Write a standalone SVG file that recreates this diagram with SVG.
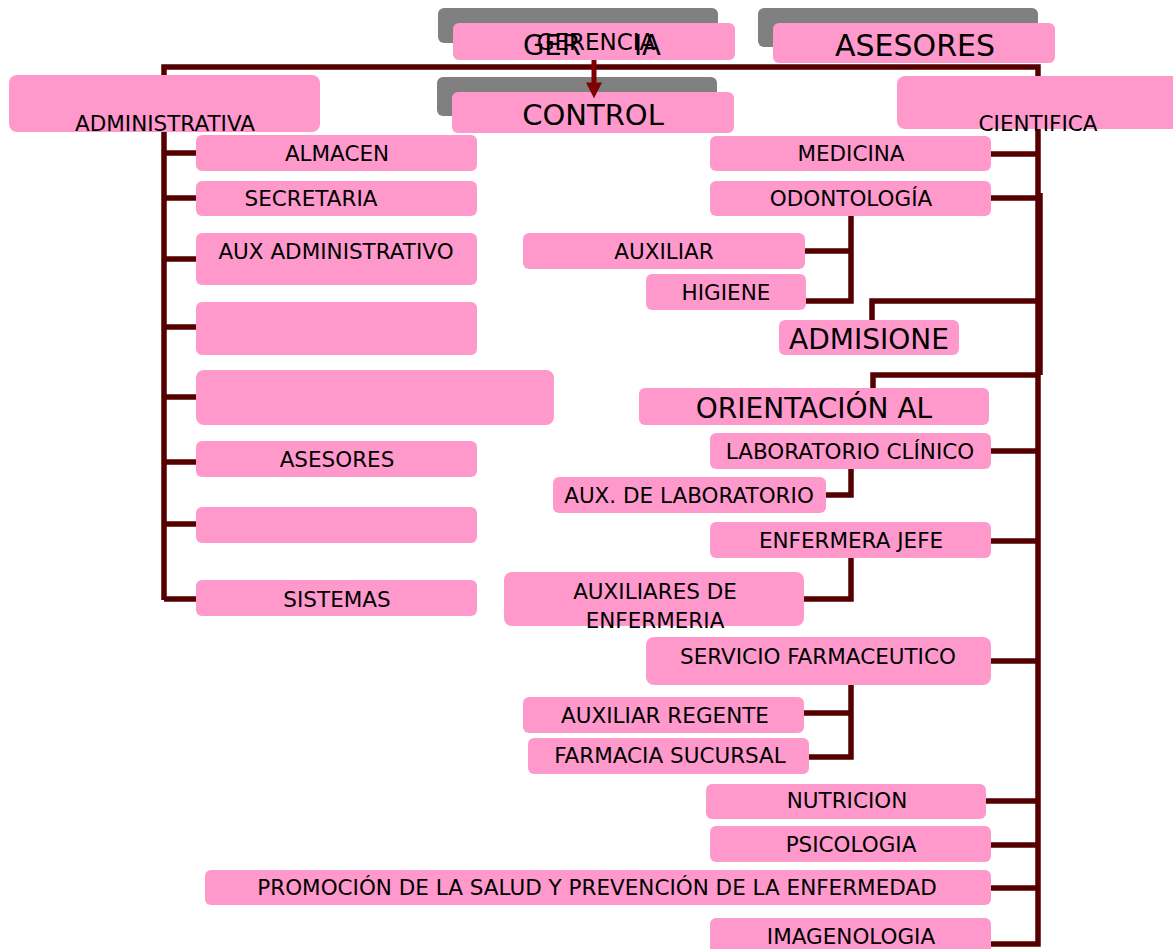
<svg xmlns="http://www.w3.org/2000/svg" width="1173" height="949" viewBox="0 0 1173 949">
<defs>
<style>
.sh{fill:#808080}
.n{fill:#FF99CC}
.t{font-family:"DejaVu Sans",Verdana,sans-serif;font-size:21.5px;fill:#000;text-anchor:middle}
.b{font-size:29px}
.c{fill:none;stroke:#550000;stroke-width:5.5;stroke-linejoin:miter}
</style>
<marker id="ah" viewBox="0 0 10 10" refX="1" refY="5" markerWidth="16" markerHeight="16" orient="auto" markerUnits="userSpaceOnUse">
<path d="M0,0 L10,5 L0,10 z" fill="#7F0000"/>
</marker>
</defs>
<rect width="1173" height="949" fill="#fff"/>
<g id="connectors">
<path class="c" d="M164,600 V67 H1038 V944 H991"/>
<path class="c" d="M1040,193 V375"/>
<path class="c" d="M164,153 H196 M164,198 H196 M164,259 H196 M164,327 H196 M164,397 H196 M164,462 H196 M164,524 H196 M164,599 H196"/>
<path class="c" d="M991,154 H1038 M991,198 H1040 M991,451 H1038 M991,541 H1038 M991,661 H1038 M986,801 H1038 M991,845 H1038 M991,888 H1038"/>
<path class="c" d="M872,321 V301 H1038 M873,390 V375 H1040"/>
<path class="c" d="M851,216 V301 H806 M805,251 H851"/>
<path class="c" d="M851,469 V495 H826"/>
<path class="c" d="M851,558 V599 H804"/>
<path class="c" d="M851,685 V757 H809 M804,713 H851"/>
</g>
<g id="gerencia">
<rect class="sh" x="438" y="8" width="280" height="35" rx="6"/>
<rect class="n" x="453" y="23" width="282" height="37" rx="6"/>
<text class="t" x="596" y="50" style="font-size:23px">GERENCIA</text>
<text class="t" x="523" y="55" style="text-anchor:start;font-size:27.5px">GER</text>
<text class="t" x="634" y="55" style="text-anchor:start;font-size:27.5px">IA</text>
</g>
<g id="asesores-top">
<rect class="sh" x="758" y="8" width="280" height="39" rx="6"/>
<rect class="n" x="773" y="23" width="282" height="40" rx="6"/>
<text class="t" x="915" y="56" style="font-size:30px">ASESORES</text>
</g>
<g id="control">
<rect class="sh" x="437" y="77" width="280" height="39" rx="6"/>
<rect class="n" x="452" y="92" width="282" height="41" rx="6"/>
<text class="t b" x="593" y="125">CONTROL</text>
</g>
<g id="administrativa">
<rect class="n" x="9" y="75" width="311" height="57" rx="8"/>
<text class="t" x="165" y="131">ADMINISTRATIVA</text>
</g>
<g id="cientifica">
<rect class="n" x="897" y="76" width="290" height="53" rx="8"/>
<text class="t" x="1038" y="131">CIENTIFICA</text>
</g>
<g id="almacen"><rect class="n" x="196" y="135" width="281" height="36" rx="6"/><text class="t" x="337" y="161">ALMACEN</text></g>
<g id="secretaria"><rect class="n" x="196" y="181" width="281" height="35" rx="6"/><text class="t" x="311" y="206">SECRETARIA</text></g>
<g id="aux-admin"><rect class="n" x="196" y="233" width="281" height="52" rx="6"/><text class="t" x="336" y="259">AUX ADMINISTRATIVO</text></g>
<g id="blank1"><rect class="n" x="196" y="302" width="281" height="53" rx="6"/></g>
<g id="blank2"><rect class="n" x="196" y="370" width="358" height="55" rx="8"/></g>
<g id="asesores"><rect class="n" x="196" y="441" width="281" height="36" rx="6"/><text class="t" x="337" y="467">ASESORES</text></g>
<g id="blank3"><rect class="n" x="196" y="507" width="281" height="36" rx="6"/></g>
<g id="sistemas"><rect class="n" x="196" y="580" width="281" height="36" rx="6"/><text class="t" x="337" y="607">SISTEMAS</text></g>
<g id="medicina"><rect class="n" x="710" y="136" width="281" height="35" rx="6"/><text class="t" x="851" y="161">MEDICINA</text></g>
<g id="odontologia"><rect class="n" x="710" y="181" width="281" height="35" rx="6"/><text class="t" x="851" y="206">ODONTOLOGÍA</text></g>
<g id="auxiliar"><rect class="n" x="523" y="233" width="282" height="36" rx="6"/><text class="t" x="664" y="259">AUXILIAR</text></g>
<g id="higiene"><rect class="n" x="646" y="274" width="160" height="36" rx="6"/><text class="t" x="726" y="300">HIGIENE</text></g>
<g id="admisione"><rect class="n" x="779" y="320" width="180" height="35" rx="6"/><text class="t" x="869" y="349" style="font-size:28px">ADMISIONE</text></g>
<g id="orientacion"><rect class="n" x="639" y="388" width="350" height="37" rx="6"/><text class="t" x="814" y="418" style="font-size:28px">ORIENTACIÓN AL</text></g>
<g id="laboratorio"><rect class="n" x="710" y="433" width="281" height="36" rx="6"/><text class="t" x="850" y="459">LABORATORIO CLÍNICO</text></g>
<g id="aux-lab"><rect class="n" x="553" y="477" width="273" height="36" rx="6"/><text class="t" x="689" y="503">AUX. DE LABORATORIO</text></g>
<g id="enfermera"><rect class="n" x="710" y="522" width="281" height="36" rx="6"/><text class="t" x="851" y="548">ENFERMERA JEFE</text></g>
<g id="aux-enf"><rect class="n" x="504" y="572" width="300" height="54" rx="8"/><text class="t" x="655" y="599">AUXILIARES DE</text><text class="t" x="655" y="628">ENFERMERIA</text></g>
<g id="farmaceutico"><rect class="n" x="646" y="637" width="345" height="48" rx="8"/><text class="t" x="818" y="664">SERVICIO FARMACEUTICO</text></g>
<g id="regente"><rect class="n" x="523" y="697" width="281" height="36" rx="6"/><text class="t" x="665" y="723">AUXILIAR REGENTE</text></g>
<g id="sucursal"><rect class="n" x="528" y="738" width="281" height="36" rx="6"/><text class="t" x="670" y="763">FARMACIA SUCURSAL</text></g>
<g id="nutricion"><rect class="n" x="706" y="784" width="280" height="35" rx="6"/><text class="t" x="847" y="808">NUTRICION</text></g>
<g id="psicologia"><rect class="n" x="710" y="826" width="281" height="36" rx="6"/><text class="t" x="851" y="852">PSICOLOGIA</text></g>
<g id="promocion"><rect class="n" x="205" y="870" width="786" height="35" rx="6"/><text class="t" x="597" y="895">PROMOCIÓN DE LA SALUD Y PREVENCIÓN DE LA ENFERMEDAD</text></g>
<g id="imagenologia"><rect class="n" x="710" y="918" width="281" height="36" rx="6"/><text class="t" x="851" y="944">IMAGENOLOGIA</text></g>
<g id="arrow">
<path d="M594,60 V84" stroke="#7F0000" stroke-width="5" fill="none" marker-end="url(#ah)"/>
</g>
</svg>
